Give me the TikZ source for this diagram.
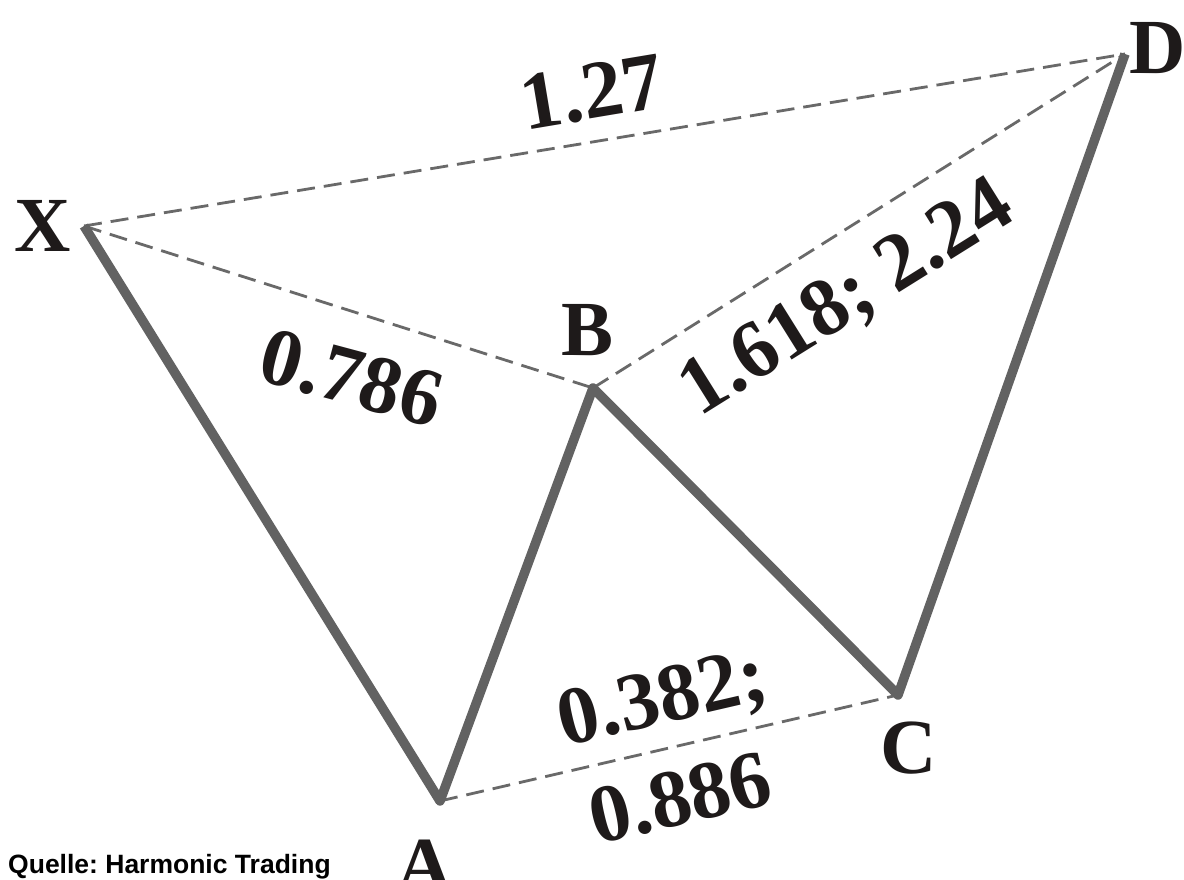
\documentclass[tikz,border=0pt]{standalone}
\usepackage{fontspec}
\setmainfont{Liberation Serif}
\newfontfamily\quellefont{Liberation Sans}
\definecolor{solidgray}{RGB}{98,98,98}
\definecolor{dashgray}{RGB}{105,105,105}
\definecolor{inkblack}{RGB}{30,26,26}
\frenchspacing
\begin{document}
\begin{tikzpicture}[x=1pt,y=-1pt,
  leg/.style={draw=solidgray,line width=9.5pt,line join=round},
  ratio/.style={draw=dashgray,line width=2.8pt,dash pattern=on 18pt off 9pt},
  ptlabel/.style={font=\fontsize{78}{78}\selectfont\bfseries,text=inkblack,inner sep=0pt},
  numlabel/.style={font=\fontsize{82}{82}\selectfont\bfseries,text=inkblack,inner sep=0pt}]
\useasboundingbox (0,0) rectangle (1184,880);
\fill[white] (0,0) rectangle (1184,880);
\coordinate (X) at (84,226);
\coordinate (A) at (440,801);
\coordinate (B) at (593,388);
\coordinate (C) at (898,695);
\coordinate (D) at (1125,54);
% dashed ratio lines
\draw[ratio] (X) -- (D);
\draw[ratio] (X) -- (B);
\draw[ratio] (B) -- (D);
\draw[ratio] (A) -- (C);
% solid pattern
\draw[leg] (X) -- (A) -- (B) -- (C) -- (D);
% point labels
\node[ptlabel] (lX) at (43,226) {X};
\node[ptlabel] (lB) at (588,330) {B};
\node[ptlabel] (lD) at (1158,48) {D};
\node[ptlabel] (lA) at (425,866) {A};
\node[ptlabel] (lC) at (909,748) {C};
% ratio labels
\node[numlabel,rotate=9.5] (r127) at (592,92) {1.27};
\node[numlabel,rotate=-15] (r786) at (352,378) {0.786};
\node[numlabel,rotate=32] (r1618) at (848,300) {1.618; 2.24};
\node[numlabel,rotate=13] (r382) at (663,702) {0.382;};
\node[numlabel,rotate=13] (r886) at (680,798) {0.886};
% source
\node[font=\quellefont\bfseries\fontsize{26.5}{26.5}\selectfont,anchor=base west,inner sep=0pt] (src) at (8,873) {Quelle: Harmonic Trading};
\end{tikzpicture}
\end{document}
